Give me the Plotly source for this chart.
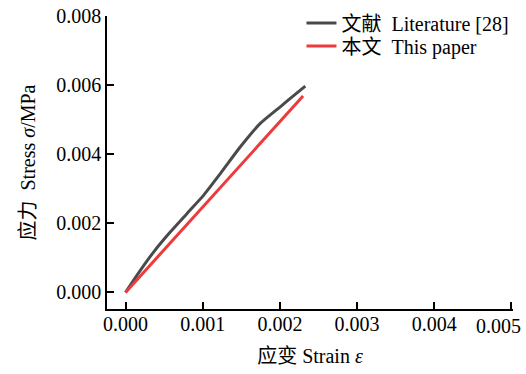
import plotly.graph_objects as go

lit_strain = [0.0, 0.000194, 0.000366, 0.000582, 0.000798, 0.001013, 0.001229, 0.001488, 0.001746, 0.002005, 0.002135, 0.002329]
lit_stress = [0.0, 0.000645, 0.001175, 0.001754, 0.002287, 0.002816, 0.003440, 0.004214, 0.004891, 0.005372, 0.005615, 0.005971]
this_strain = [0.0, 0.002300]
this_stress = [0.0, 0.005682]

x_ticks = [0.000, 0.001, 0.002, 0.003, 0.004, 0.005]
x_ticklabels = ["0.000", "0.001", "0.002", "0.003", "0.004", "0.005"]
y_ticks = [0.000, 0.002, 0.004, 0.006, 0.008]
y_ticklabels = ["0.000", "0.002", "0.004", "0.006", "0.008"]

FONT = "Liberation Serif, Noto Sans CJK SC, serif"

fig = go.Figure()
fig.add_trace(go.Scatter(x=lit_strain, y=lit_stress, mode="lines",
                         line=dict(color="#4a4a4a", width=3, shape="spline", smoothing=0.6),
                         name="文献\u00a0\u00a0Literature [28]", legend="legend"))
fig.add_trace(go.Scatter(x=this_strain, y=this_stress, mode="lines",
                         line=dict(color="#ee3a3a", width=3),
                         name="本文\u00a0\u00a0This paper", legend="legend2"))

leg_common = dict(xanchor="left", yanchor="middle", bgcolor="rgba(0,0,0,0)",
                  font=dict(size=20, family=FONT), itemwidth=30,
                  borderwidth=0)

# last x tick label is placed as an annotation, shifted left to stay inside the page
x_text = x_ticklabels[:-1] + [""]

fig.update_layout(
    width=526, height=374,
    margin=dict(l=107, r=13, t=16, b=65, autoexpand=False),
    paper_bgcolor="white", plot_bgcolor="white",
    font=dict(family=FONT, size=20, color="black"),
    showlegend=True,
    legend=dict(x=0.479, y=0.976, **leg_common),
    legend2=dict(x=0.479, y=0.898, **leg_common),
    xaxis=dict(range=[-0.00024, 0.00502], tickvals=x_ticks, ticktext=x_text,
               showline=True, linecolor="black", linewidth=1.5,
               ticks="inside", ticklen=7, tickwidth=1.5, tickcolor="black",
               ticklabelstandoff=-4,
               showgrid=False, zeroline=False, automargin=False,
               title=dict(text="应变 Strain <i>ε</i>", font=dict(size=20))),
    yaxis=dict(range=[-0.00048, 0.008], tickvals=y_ticks, ticktext=y_ticklabels,
               showline=True, linecolor="black", linewidth=1.5,
               ticks="inside", ticklen=7, tickwidth=1.5, tickcolor="black",
               showgrid=False, zeroline=False, automargin=False,
               title=dict(text="应力\u00a0\u00a0Stress <i>σ</i>/MPa", font=dict(size=20))),
)

fig.add_annotation(x=x_ticks[-1], y=0, xref="x", yref="paper", text=x_ticklabels[-1],
                   showarrow=False, xanchor="center", yanchor="top", xshift=-13, yshift=-4,
                   font=dict(size=20, family=FONT))

fig.write_html("out.html")
